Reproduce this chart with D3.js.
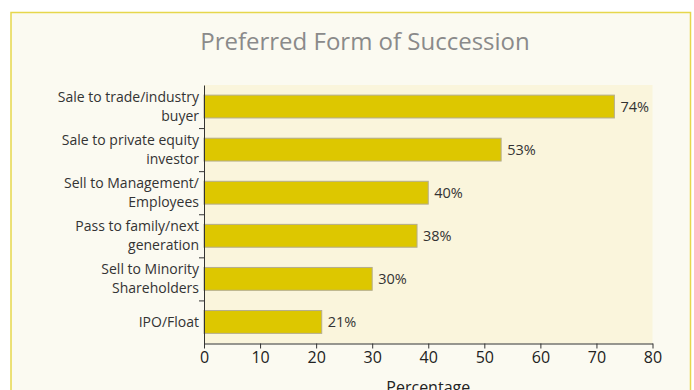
<!DOCTYPE html>
<html>
<head>
<meta charset="utf-8">
<script src="https://cdn.jsdelivr.net/npm/d3@7"></script>
<style>
  body { margin: 0; background: #fff; }
  text { font-family: "Open Sans", sans-serif; }
</style>
</head>
<body>
<script>
// data
var categories = [
  ["Sale to trade/industry", "buyer"],
  ["Sale to private equity", "investor"],
  ["Sell to Management/", "Employees"],
  ["Pass to family/next", "generation"],
  ["Sell to Minority", "Shareholders"],
  ["IPO/Float"]
];
var barValues = [73.2, 53, 40, 38, 30, 21];
var valueLabels = ["74%", "53%", "40%", "38%", "30%", "21%"];
var xTicks = [0, 10, 20, 30, 40, 50, 60, 70, 80];

var W = 694, H = 390;
var plot = {left: 204, right: 652.5, top: 85, bottom: 343.5};

var svg = d3.select("body").append("svg")
  .attr("width", W)
  .attr("height", H);

// panel
svg.append("rect")
  .attr("x", 11).attr("y", 12.5)
  .attr("width", 679.5).attr("height", 400)
  .style("fill", "#fbfaf1")
  .style("stroke", "#e6d74c")
  .style("stroke-width", 1.5);

svg.append("text")
  .attr("x", 365).attr("y", 50)
  .attr("text-anchor", "middle")
  .style("font-size", "24px")
  .style("fill", "#8a8a8a")
  .text("Preferred Form of Succession");

// plot background
svg.append("rect")
  .attr("x", plot.left).attr("y", plot.top)
  .attr("width", plot.right - plot.left)
  .attr("height", plot.bottom - plot.top)
  .style("fill", "#faf5dc");

var x = d3.scaleLinear().domain([0, 80]).range([plot.left, plot.right]);
var y = d3.scaleBand()
  .domain(d3.range(categories.length))
  .range([plot.top, plot.bottom])
  .paddingInner(0.47)
  .paddingOuter(0.235);

// bars
svg.selectAll(".bar")
  .data(barValues)
  .enter().append("rect")
  .attr("class", "bar")
  .attr("x", x(0))
  .attr("y", function(d, i) { return y(i); })
  .attr("width", function(d) { return x(d) - x(0); })
  .attr("height", y.bandwidth())
  .style("fill", "#ddc700")
  .style("stroke", "#b4ad8e")
  .style("stroke-width", 1);

svg.selectAll(".val")
  .data(barValues)
  .enter().append("text")
  .attr("class", "val")
  .attr("x", function(d) { return x(d) + 6; })
  .attr("y", function(d, i) { return y(i) + y.bandwidth()/2; })
  .attr("dy", "0.35em")
  .style("font-size", "14.5px")
  .style("fill", "#333")
  .text(function(d, i) { return valueLabels[i]; });

// x axis
var xAxis = svg.append("g")
  .attr("transform", "translate(0," + plot.bottom + ")")
  .call(d3.axisBottom(x).tickValues(xTicks).tickSize(5).tickPadding(3).tickSizeOuter(0));
xAxis.selectAll("text").style("font-size", "16px").style("fill", "#222")
  .style("font-family", "'Open Sans', sans-serif");
xAxis.selectAll("line, path").style("stroke", "#333");

// y axis line with ticks between categories
var yLin = d3.scaleLinear().domain([0, categories.length]).range([plot.top, plot.bottom]);
var yAxis = svg.append("g")
  .attr("transform", "translate(" + plot.left + ",0)")
  .call(d3.axisLeft(yLin).tickValues(d3.range(1, categories.length)).tickSize(5).tickSizeOuter(0).tickFormat(""));
yAxis.selectAll("line, path").style("stroke", "#333");

// category labels
var cat = svg.selectAll(".cat")
  .data(categories)
  .enter().append("text")
  .attr("class", "cat")
  .attr("text-anchor", "end")
  .style("font-size", "14px")
  .style("fill", "#333")
  .attr("transform", function(d, i) {
    return "translate(199," + (y(i) + y.bandwidth()/2) + ")";
  });
cat.selectAll("tspan")
  .data(function(d) { return d; })
  .enter().append("tspan")
  .attr("x", 0)
  .attr("y", function(d, j, nodes) {
    return (j - (nodes.length - 1)/2) * 18.7;
  })
  .attr("dy", "0.35em")
  .text(function(d) { return d; });

svg.append("text")
  .attr("x", (plot.left + plot.right)/2).attr("y", 393)
  .attr("text-anchor", "middle")
  .style("font-size", "16px")
  .style("fill", "#222")
  .text("Percentage");
</script>
</body>
</html>
